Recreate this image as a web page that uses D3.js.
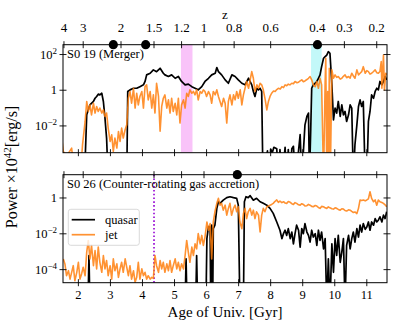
<!DOCTYPE html>
<html><head><meta charset="utf-8">
<script src="https://cdn.jsdelivr.net/npm/d3@7"></script>
<style>body{margin:0;background:#fff} svg{display:block}</style>
</head><body><svg id="c" width="415" height="325" font-family="'Liberation Serif', 'Times New Roman', 'DejaVu Serif', serif"></svg>
<script>
// ---------------- data ----------------
const ageTicks = [2,3,4,5,6,7,8,9,10,11];
const zTickLabels = ["4","3","2","1.5","1.2","1","0.8","0.6","0.4","0.3","0.2"];
const zTickAges = [1.55,2.15,3.33,4.36,5.22,5.92,6.86,8.00,9.46,10.30,11.31];
const panelTitles = ["S0 19 (Merger)","S0 26 (Counter-rotating gas accretion)"];
const legendLabels = ["quasar","jet"];
const s19MergerAges = [3.09,4.10,9.46];
const s26MergerAges = [6.96];
const s19MagentaBand = [5.20,5.56];
const s19CyanBand = [9.26,9.59];
const s26LineAge = 4.36;
// [age (Gyr), log10(Power / 1e42 erg/s)]
const s19Quasar = [[1.40,-5],[2.19,-5],[2.26,-1.38],[2.36,-0.82],[2.47,-0.63],[2.52,-0.45],[2.57,-0.35],[2.62,-0.22],[2.67,-0.26],[2.73,-0.17],[2.78,-0.63],[2.83,-1.56],[2.88,-2.68],[2.93,-5],[3.51,-5],[3.54,-0.07],[3.61,0.02],[3.72,0.11],[3.82,0.11],[3.92,0.2],[4.03,0.3],[4.08,0.49],[4.13,0.86],[4.24,0.95],[4.34,1.14],[4.44,1.04],[4.55,1.23],[4.65,0.95],[4.70,0.86],[4.81,0.77],[4.91,0.86],[5.02,0.67],[5.12,0.77],[5.22,0.49],[5.33,0.3],[5.43,0.34],[5.54,0.2],[5.64,0.11],[5.74,0.02],[5.85,0.2],[5.95,0.49],[6.06,0.67],[6.16,0.86],[6.27,0.95],[6.32,1.27],[6.37,1.04],[6.47,0.86],[6.58,0.58],[6.68,0.39],[6.79,0.86],[6.89,0.77],[6.99,0.58],[7.10,0.39],[7.20,0.3],[7.31,0.67],[7.41,0.3],[7.46,-0.07],[7.51,-0.35],[7.57,0.11],[7.62,0.02],[7.67,0.11],[7.72,-0.07],[7.76,-5],[7.90,-3.4],[7.95,-5],[8.00,-3.3],[8.05,-3.5],[8.10,-3.2],[8.19,-3.28],[8.24,-5],[8.29,-3.33],[8.36,-5],[8.45,-3.2],[8.50,-5],[8.55,-3.33],[8.60,-5],[8.66,-3.28],[8.71,-3.14],[8.78,-5],[8.92,-2.49],[8.97,-5],[9.07,-1.94],[9.13,-1.47],[9.18,-1.28],[9.21,-5],[9.25,-2.2],[9.28,0.11],[9.33,0.3],[9.39,0.39],[9.44,0.49],[9.49,0.67],[9.54,0.86],[9.59,1.32],[9.65,1.79],[9.70,1.88],[9.75,1.97],[9.80,2.16],[9.85,2.07],[9.91,0.3],[9.96,-1.66],[10.01,-1.0],[10.06,-1.28],[10.11,-0.63],[10.17,-1.47],[10.22,-0.82],[10.27,-1.38],[10.32,-1.19],[10.37,-1.75],[10.43,-1.38],[10.48,-0.82],[10.53,-1.0],[10.58,-5],[10.63,-3.05],[10.69,-1.94],[10.74,-0.91],[10.79,-0.54],[10.84,-0.91],[10.89,-0.63],[10.95,-5],[11.00,-5],[11.05,-1.75],[11.10,-1.19],[11.15,-0.26],[11.21,-0.45],[11.26,-0.07],[11.31,0.11],[11.36,0.02],[11.41,0.49],[11.47,0.3],[11.52,0.49],[11.57,0.77],[11.62,0.58]];
const s19Jet = [[1.48,-2.68],[1.53,-3.43],[1.63,-3.7],[1.79,-3.24],[1.89,-5],[2.05,-5],[2.13,-3.05],[2.21,-1.75],[2.26,-0.63],[2.31,-1.19],[2.36,-0.82],[2.41,-1.38],[2.47,-0.73],[2.52,-1.28],[2.57,-0.91],[2.62,-1.19],[2.67,-1.0],[2.73,-1.28],[2.78,-1.1],[2.83,-1.47],[2.88,-1.28],[2.93,-2.12],[2.99,-2.87],[3.04,-2.5],[3.09,-3.43],[3.14,-2.68],[3.20,-3.24],[3.25,-2.31],[3.30,-2.87],[3.35,-2.12],[3.40,-2.68],[3.46,-2.2],[3.51,-1.94],[3.56,-0.45],[3.61,-0.07],[3.66,-0.73],[3.72,0.11],[3.77,-1.0],[3.82,-0.17],[3.87,-0.82],[3.92,-0.35],[3.98,-0.07],[4.03,-1.0],[4.08,0.2],[4.13,0.3],[4.18,-0.54],[4.24,-0.07],[4.29,-1.0],[4.34,-0.26],[4.39,-1.28],[4.44,0.39],[4.50,-0.35],[4.55,-2.3],[4.60,-0.91],[4.65,-0.45],[4.70,-0.26],[4.76,-1.0],[4.81,-0.54],[4.86,-1.28],[4.91,-0.45],[4.96,-1.19],[5.02,-0.73],[5.07,-1.38],[5.12,-0.45],[5.17,-1.84],[5.22,-0.82],[5.28,-0.54],[5.33,-1.0],[5.38,-0.17],[5.43,-0.35],[5.48,0.02],[5.54,-0.17],[5.59,-0.07],[5.64,-0.26],[5.69,0.02],[5.74,-0.54],[5.80,-0.07],[5.85,-0.17],[5.90,0.02],[5.95,-0.07],[6.00,-0.35],[6.06,-0.07],[6.11,-0.26],[6.16,-0.73],[6.21,-0.07],[6.27,-0.26],[6.32,0.02],[6.37,-0.35],[6.42,-0.63],[6.47,-0.91],[6.53,-0.45],[6.58,-0.73],[6.63,-1.84],[6.68,-0.63],[6.73,-0.26],[6.79,-0.82],[6.84,-0.26],[6.89,-0.54],[6.94,-0.07],[6.99,-0.45],[7.05,0.02],[7.10,-0.82],[7.15,-0.26],[7.20,0.11],[7.25,0.49],[7.31,0.11],[7.36,0.58],[7.41,1.04],[7.46,0.67],[7.51,-0.07],[7.57,0.3],[7.62,0.11],[7.67,0.39],[7.72,0.3],[7.77,0.02],[7.83,-0.54],[7.88,-1.10],[7.93,-0.63],[7.98,-0.35],[8.03,-0.17],[8.09,-0.04],[8.14,-0.07],[8.19,0.04],[8.24,0.11],[8.30,0.07],[8.35,0.2],[8.40,0.15],[8.45,0.3],[8.50,0.25],[8.55,0.34],[8.60,0.3],[8.66,0.39],[8.71,0.36],[8.76,0.49],[8.82,0.42],[8.87,0.45],[8.92,0.52],[8.97,0.58],[9.02,0.48],[9.07,0.52],[9.13,0.6],[9.18,0.67],[9.23,0.77],[9.28,0.58],[9.33,0.3],[9.39,0.2],[9.44,0.49],[9.49,0.11],[9.54,0.67],[9.59,0.3],[9.65,-5],[9.70,0.49],[9.72,1.79],[9.75,-5],[9.78,-0.07],[9.80,-5],[9.83,1.23],[9.86,-5],[9.91,1.14],[9.96,0.67],[10.01,0.86],[10.06,0.72],[10.11,0.77],[10.17,0.62],[10.22,0.67],[10.27,0.78],[10.32,0.86],[10.37,0.7],[10.43,0.77],[10.48,0.68],[10.53,0.95],[10.58,0.8],[10.63,0.67],[10.69,1.14],[10.74,0.86],[10.79,0.95],[10.84,1.04],[10.89,1.32],[10.95,0.95],[11.00,1.1],[11.05,1.04],[11.10,0.9],[11.15,0.95],[11.21,1.05],[11.26,1.14],[11.31,0.98],[11.36,0.95],[11.41,1.05],[11.45,1.6],[11.47,0.11],[11.52,1.97],[11.55,0.02],[11.59,0.95],[11.63,0.86]];
const s26Quasar = [[1.40,-6],[2.30,-6],[2.33,-3.21],[2.36,-6],[5.33,-6],[5.36,-3.4],[5.39,-6],[5.66,-6],[5.69,-3.21],[5.72,-6],[5.98,-6],[6.01,-2.27],[6.06,-1.6],[6.11,-1.62],[6.13,-6],[6.16,-1.52],[6.19,-6],[6.21,-1.71],[6.26,-1.52],[6.32,-0.58],[6.37,-0.21],[6.42,-0.3],[6.52,-0.12],[6.63,0.02],[6.73,0.07],[6.84,0.02],[6.94,-0.02],[6.99,-0.4],[7.04,-6],[7.15,-6],[7.18,-0.21],[7.23,0.07],[7.30,0.02],[7.36,0.13],[7.46,-0.12],[7.56,-0.02],[7.67,-0.21],[7.77,-0.3],[7.88,-0.4],[7.98,-0.58],[8.08,-0.86],[8.19,-1.34],[8.29,-1.8],[8.35,-2.27],[8.40,-1.99],[8.45,-1.8],[8.50,-2.09],[8.55,-1.71],[8.61,-2.27],[8.66,-1.9],[8.71,-2.56],[8.76,-1.99],[8.81,-1.52],[8.87,-1.8],[8.92,-2.74],[8.97,-1.71],[9.02,-1.99],[9.07,-1.43],[9.13,-1.9],[9.18,-2.09],[9.23,-2.46],[9.28,-1.8],[9.33,-2.18],[9.39,-1.99],[9.44,-2.65],[9.49,-1.8],[9.54,-2.37],[9.59,-1.9],[9.65,-2.84],[9.70,-2.27],[9.75,-6],[9.80,-3.4],[9.85,-6],[9.91,-2.56],[9.96,-4.15],[10.01,-2.27],[10.06,-3.21],[10.11,-2.09],[10.17,-3.59],[10.22,-3.02],[10.27,-2.27],[10.32,-6],[10.37,-2.65],[10.43,-2.09],[10.48,-2.84],[10.53,-2.27],[10.58,-1.9],[10.63,-2.46],[10.69,-1.71],[10.74,-2.18],[10.79,-1.52],[10.84,-1.9],[10.89,-1.43],[10.95,-1.75],[11.00,-1.62],[11.05,-1.34],[11.10,-1.8],[11.15,-1.34],[11.21,-1.52],[11.26,-1.15],[11.31,-1.34],[11.36,-1.24],[11.41,-1.05],[11.47,-1.34],[11.52,-0.96],[11.57,-1.15],[11.62,-0.77]];
const s26Jet = [[1.53,-3.40],[1.58,-3.68],[1.63,-4.34],[1.69,-4.06],[1.74,-4.53],[1.79,-4.15],[1.84,-3.78],[1.89,-4.62],[1.95,-4.15],[2.00,-3.59],[2.05,-4.53],[2.10,-4.24],[2.15,-3.87],[2.21,-4.34],[2.26,-3.02],[2.31,-2.37],[2.36,-3.40],[2.41,-2.65],[2.47,-3.78],[2.52,-2.93],[2.57,-3.96],[2.62,-2.74],[2.67,-3.59],[2.73,-4.15],[2.78,-3.21],[2.83,-3.96],[2.88,-3.49],[2.93,-4.34],[2.99,-3.78],[3.04,-4.53],[3.09,-3.40],[3.14,-4.06],[3.20,-3.68],[3.25,-4.43],[3.30,-3.96],[3.35,-3.59],[3.40,-4.15],[3.46,-3.40],[3.51,-3.87],[3.56,-4.34],[3.61,-3.78],[3.66,-4.53],[3.72,-4.06],[3.77,-4.71],[3.82,-4.43],[3.87,-3.59],[3.92,-4.53],[3.98,-3.96],[4.03,-4.34],[4.08,-4.15],[4.13,-4.53],[4.18,-4.34],[4.24,-4.53],[4.29,-4.43],[4.34,-4.49],[4.39,-3.21],[4.44,-3.78],[4.50,-4.15],[4.55,-3.49],[4.60,-3.96],[4.65,-3.59],[4.70,-4.15],[4.76,-3.68],[4.81,-4.06],[4.86,-3.49],[4.91,-4.15],[4.96,-3.78],[5.02,-3.40],[5.07,-3.96],[5.12,-3.59],[5.17,-4.06],[5.22,-3.68],[5.28,-3.96],[5.33,-3.21],[5.38,-2.37],[5.43,-3.02],[5.48,-3.59],[5.54,-2.74],[5.59,-3.21],[5.64,-2.56],[5.69,-2.84],[5.74,-1.99],[5.80,-2.56],[5.85,-2.09],[5.90,-2.65],[5.95,-2.18],[6.01,-1.34],[6.06,-1.8],[6.11,-1.43],[6.16,-3.40],[6.21,-1.34],[6.26,-0.77],[6.32,-0.30],[6.37,-0.02],[6.42,-0.40],[6.47,-0.30],[6.52,-0.68],[6.58,-0.40],[6.63,-0.96],[6.68,-0.58],[6.73,-0.30],[6.78,-0.96],[6.84,-0.58],[6.89,-0.40],[6.94,-0.77],[6.99,-0.49],[7.04,-1.34],[7.10,-1.71],[7.15,-0.87],[7.20,-0.58],[7.25,-1.15],[7.30,-0.77],[7.36,-0.58],[7.41,-0.96],[7.46,-0.68],[7.51,-1.15],[7.56,-0.77],[7.62,-0.96],[7.67,-1.90],[7.72,-0.96],[7.77,-0.58],[7.82,-0.77],[7.88,-0.49],[7.93,-0.45],[7.98,-0.40],[8.03,-0.36],[8.08,-0.30],[8.13,-0.2],[8.19,-0.11],[8.24,-0.24],[8.29,-0.17],[8.35,-0.26],[8.40,-0.21],[8.45,-0.28],[8.50,-0.30],[8.55,-0.2],[8.61,-0.24],[8.66,-0.32],[8.71,-0.36],[8.76,-0.26],[8.81,-0.30],[8.87,-0.38],[8.92,-0.40],[8.97,-0.32],[9.02,-0.36],[9.07,-0.45],[9.13,-0.43],[9.18,-0.36],[9.23,-0.40],[9.28,-0.47],[9.33,-0.49],[9.39,-0.42],[9.44,-0.45],[9.49,-0.53],[9.54,-0.58],[9.59,-0.47],[9.65,-0.49],[9.70,-0.55],[9.75,-0.58],[9.80,-0.5],[9.85,-0.55],[9.91,-0.6],[9.96,-0.62],[10.01,-0.55],[10.06,-0.58],[10.11,-0.64],[10.17,-0.68],[10.22,-0.6],[10.27,-0.62],[10.32,-0.7],[10.37,-0.73],[10.43,-0.66],[10.48,-0.68],[10.53,-0.75],[10.58,-0.81],[10.63,-0.78],[10.69,-0.87],[10.74,-0.58],[10.79,-0.11],[10.84,-0.14],[10.89,-0.11],[10.95,-0.16],[11.00,-0.11],[11.05,-0.05],[11.10,0.35],[11.15,-0.02],[11.21,-0.21],[11.26,-0.11],[11.31,-0.40],[11.36,-0.11],[11.41,-0.21],[11.47,-0.25],[11.52,-0.30],[11.57,-0.38],[11.62,-0.49]];

// ---------------- drawing ----------------
const svg = d3.select("#c");
const X0 = 63, X1 = 387;
const x = d3.scaleLinear().domain([1.52, 11.63]).range([X0, X1]);
const ORANGE = "#ff7f0e";
const panels = [
  {top: 44.7, bot: 152.7, dom: [-3.5, 2.55], yt: [2, 0, -2], quasar: s19Quasar, jet: s19Jet, title: panelTitles[0], markers: s19MergerAges, zLabels: true, xLabels: false},
  {top: 174.7, bot: 282.7, dom: [-4.73, 1.30], yt: [0, -2, -4], quasar: s26Quasar, jet: s26Jet, title: panelTitles[1], markers: s26MergerAges, zLabels: false, xLabels: true}
];
const TICK = 3.5;

panels.forEach((p, i) => {
  const y = d3.scaleLog().domain([Math.pow(10, p.dom[0]), Math.pow(10, p.dom[1])]).range([p.bot, p.top]);
  const g = svg.append("g");
  const cid = "clip" + i;
  svg.append("clipPath").attr("id", cid).append("rect")
    .attr("x", X0).attr("y", p.top).attr("width", X1 - X0).attr("height", p.bot - p.top);
  const inner = g.append("g").attr("clip-path", `url(#${cid})`);

  if (i === 0) {
    inner.append("rect").attr("x", x(s19MagentaBand[0])).attr("y", p.top)
      .attr("width", x(s19MagentaBand[1]) - x(s19MagentaBand[0])).attr("height", p.bot - p.top)
      .attr("fill", "#f9c3f9");
    inner.append("rect").attr("x", x(s19CyanBand[0])).attr("y", p.top)
      .attr("width", x(s19CyanBand[1]) - x(s19CyanBand[0])).attr("height", p.bot - p.top)
      .attr("fill", "#c3f8f9");
  } else {
    inner.append("line").attr("x1", x(s26LineAge)).attr("x2", x(s26LineAge))
      .attr("y1", p.top).attr("y2", p.bot)
      .attr("stroke", "#9400d3").attr("stroke-width", 1.6).attr("stroke-dasharray", "1.6,2.2");
  }

  const line = d3.line().x(d => x(d[0])).y(d => y(Math.pow(10, d[1])));
  inner.append("path").datum(p.quasar).attr("d", line)
    .attr("fill", "none").attr("stroke", "#000").attr("stroke-width", 1.7).attr("stroke-linejoin", "round");
  inner.append("path").datum(p.jet).attr("d", line)
    .attr("fill", "none").attr("stroke", ORANGE).attr("stroke-opacity", 0.85).attr("stroke-width", 1.6).attr("stroke-linejoin", "round");

  g.append("rect").attr("x", X0).attr("y", p.top).attr("width", X1 - X0).attr("height", p.bot - p.top)
    .attr("fill", "none").attr("stroke", "#000").attr("stroke-width", 1);

  p.yt.forEach(e => {
    const yy = y(Math.pow(10, e));
    [X0, X1].forEach(xx => g.append("line").attr("x1", xx - TICK).attr("x2", xx + TICK)
      .attr("y1", yy).attr("y2", yy).attr("stroke", "#000").attr("stroke-width", 0.9));
    const t = g.append("text").attr("x", X0 - 6).attr("y", yy + 4).attr("text-anchor", "end").attr("font-size", 12.5);
    if (e === 0) t.text("1");
    else {
      t.append("tspan").text("10");
      t.append("tspan").attr("dy", -5).attr("font-size", 9).text(e < 0 ? "\u2212" + (-e) : String(e));
    }
  });

  ageTicks.forEach(a => {
    g.append("line").attr("x1", x(a)).attr("x2", x(a)).attr("y1", p.bot - TICK).attr("y2", p.bot + TICK)
      .attr("stroke", "#000").attr("stroke-width", 0.9);
    if (p.xLabels) g.append("text").attr("x", x(a)).attr("y", p.bot + 16.5).attr("text-anchor", "middle")
      .attr("font-size", 12.5).text(a);
  });
  zTickAges.forEach((a, k) => {
    g.append("line").attr("x1", x(a)).attr("x2", x(a)).attr("y1", p.top - TICK).attr("y2", p.top + TICK)
      .attr("stroke", "#000").attr("stroke-width", 0.9);
    if (p.zLabels) g.append("text").attr("x", x(a)).attr("y", p.top - 13).attr("text-anchor", "middle")
      .attr("font-size", 13).text(zTickLabels[k]);
  });

  g.append("text").attr("x", X0 + 4).attr("y", p.top + 13.5).attr("font-size", 12.5).text(p.title);

  p.markers.forEach(a => g.append("circle").attr("cx", x(a)).attr("cy", p.top).attr("r", 4.6).attr("fill", "#000"));

  if (i === 1) {
    const lg = g.append("g");
    lg.append("rect").attr("x", 68.3).attr("y", 209.3).attr("width", 71).attr("height", 36).attr("rx", 2.5)
      .attr("fill", "#fff").attr("fill-opacity", 0.8).attr("stroke", "#d0d0d0").attr("stroke-width", 0.8);
    [["#000", legendLabels[0]], [ORANGE, legendLabels[1]]].forEach((it, k) => {
      const yy = 219.7 + k * 15;
      lg.append("line").attr("x1", 71.7).attr("x2", 95).attr("y1", yy).attr("y2", yy)
        .attr("stroke", it[0]).attr("stroke-width", 1.7).attr("stroke-opacity", k ? 0.85 : 1);
      lg.append("text").attr("x", 105).attr("y", yy + 4).attr("font-size", 12.5).text(it[1]);
    });
  }
});

svg.append("text").attr("x", (X0 + X1) / 2).attr("y", 18.5).attr("text-anchor", "middle").attr("font-size", 13).text("z");
svg.append("text").attr("x", (X0 + X1) / 2).attr("y", 317).attr("text-anchor", "middle").attr("font-size", 15).text("Age of Univ. [Gyr]");
const yl = svg.append("text").attr("transform", "translate(17,167) rotate(-90)").attr("text-anchor", "middle").attr("font-size", 16);
yl.append("tspan").text("Power \u00d710");
yl.append("tspan").attr("dy", -6).attr("font-size", 11).text("42");
yl.append("tspan").attr("dy", 6).text("[erg/s]");
</script></body></html>
